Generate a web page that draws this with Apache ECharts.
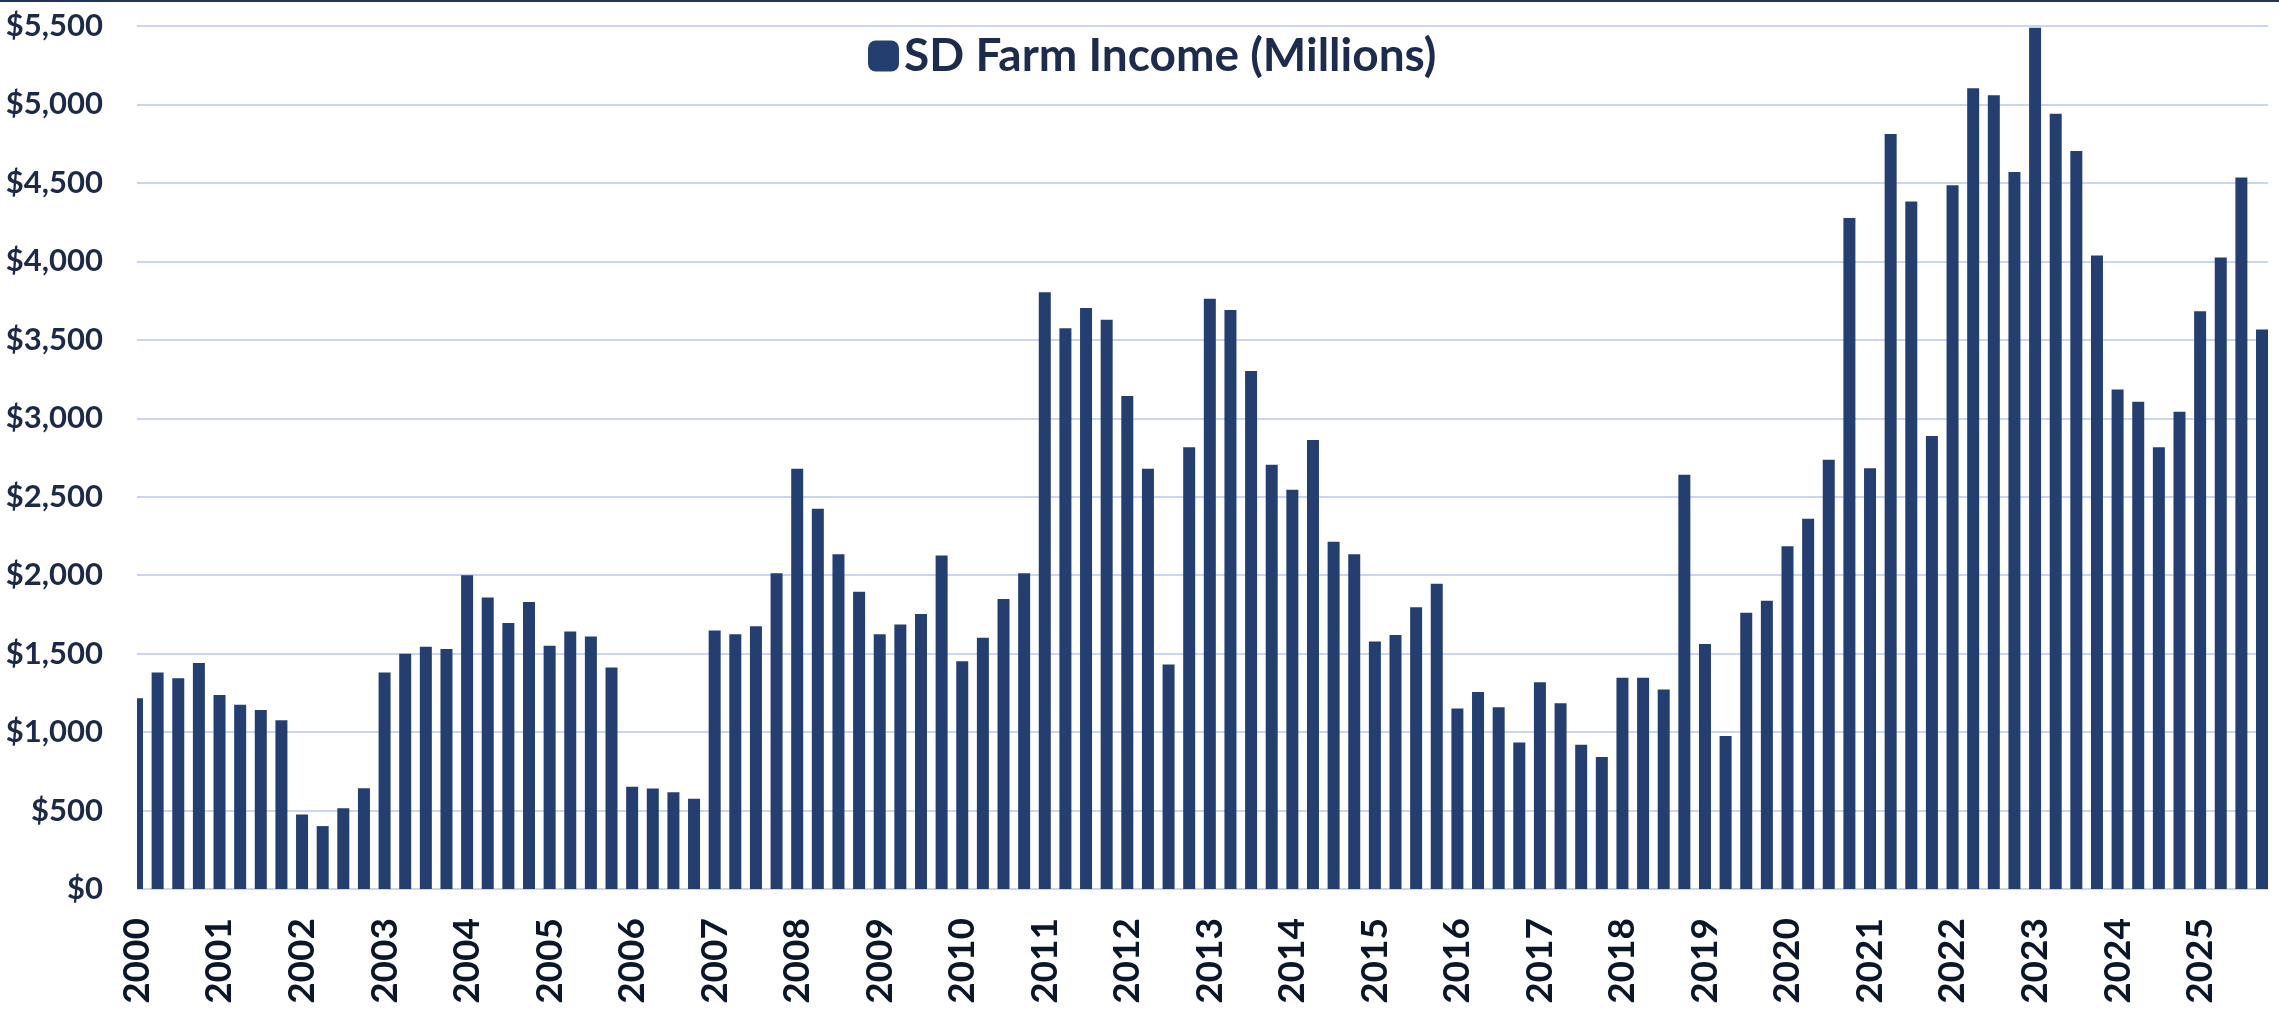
<!DOCTYPE html>
<html>
<head>
<meta charset="utf-8">
<title>SD Farm Income</title>
<script src="https://cdn.jsdelivr.net/npm/echarts@6/dist/echarts.min.js"></script>
<style>
  html, body { margin: 0; padding: 0; background: #fff; }
  #chart { width: 2279px; height: 1031px; }
</style>
</head>
<body>
<div id="chart"></div>
<script>
// year labels, one per Q1 bar
const years = [
  '2000', '2001', '2002', '2003', '2004', '2005', '2006', '2007', '2008',
  '2009', '2010', '2011', '2012', '2013', '2014', '2015', '2016', '2017',
  '2018', '2019', '2020', '2021', '2022', '2023', '2024', '2025',
]

// quarterly farm income, $ millions, 2000 Q1 .. 2025 Q4
const farmIncome = [
  1215, 1380, 1343, 1441,
  1236, 1175, 1141, 1075,
  475, 401, 515, 642,
  1380, 1500, 1544, 1529,
  2000, 1858, 1696, 1829,
  1550, 1641, 1610, 1411,
  651, 640, 617, 575,
  1648, 1623, 1674, 2013,
  2678, 2423, 2134, 1895,
  1623, 1686, 1753, 2125,
  1452, 1602, 1849, 2013,
  3803, 3573, 3703, 3628,
  3142, 2678, 1431, 2816,
  3761, 3690, 3301, 2703,
  2544, 2862, 2213, 2134,
  1577, 1619, 1795, 1946,
  1151, 1255, 1159, 933,
  1318, 1184, 920, 841,
  1347, 1347, 1272, 2640,
  1561, 975, 1761, 1837,
  2184, 2360, 2736, 4276,
  2682, 4812, 4381, 2887,
  4485, 5104, 5058, 4569,
  5489, 4941, 4703, 4038,
  3184, 3105, 2816, 3042,
  3682, 4025, 4535, 3565,
]

const yTicks = { min: 0, max: 5500, interval: 500 }
const seriesName = 'SD Farm Income (Millions)'

const navy = '#243f6f'
const gridBlue = '#cad6ee'
const barWidth = 12

const chart = echarts.init(document.getElementById('chart'))

chart.setOption({
  backgroundColor: '#fff',
  animation: false,
  textStyle: { fontFamily: 'Lato' },
  legend: {
    left: 863,
    top: 28,
    icon: 'roundRect',
    itemWidth: 31,
    itemHeight: 31,
    textStyle: { fontFamily: 'Lato', fontWeight: 'bold', fontSize: 46, color: '#1d2c4d' },
    data: [seriesName],
  },
  grid: { left: 137, right: 11, top: 26, bottom: 142, containLabel: false, outerBoundsMode: 'none' },
  xAxis: {
    type: 'value',
    min: 0,
    max: farmIncome.length - 1 + 0.29,
    interval: 4,
    axisLine: { show: false },
    axisTick: { show: false },
    splitLine: { show: false },
    axisLabel: {
      rotate: 90,
      margin: 29,
      fontFamily: 'Lato',
      fontWeight: 'bold',
      fontSize: 37,
      color: '#0b1628',
      formatter: (v) => years[v / 4] ?? '',
    },
  },
  yAxis: {
    type: 'value',
    min: yTicks.min,
    max: yTicks.max,
    interval: yTicks.interval,
    axisLine: { show: false },
    axisTick: { show: false },
    splitLine: { lineStyle: { color: gridBlue, width: 2 } },
    axisLabel: {
      margin: 34,
      fontFamily: 'Lato',
      fontWeight: 'bold',
      fontSize: 31,
      color: '#1c2a47',
      formatter: (v) => '$' + v.toLocaleString('en-US'),
    },
  },
  series: [
    {
      name: seriesName,
      type: 'bar',
      barWidth: barWidth,
      itemStyle: { color: navy },
      data: farmIncome.map((v, i) => [i, v]),
    },
  ],
})

// the first bar sits on the axis start and is cut in half there,
// bar clipping on a value axis leaves it whole, so mask its left half
const x0 = chart.convertToPixel({ xAxisIndex: 0 }, 0)
const yTop = chart.convertToPixel({ yAxisIndex: 0 }, yTicks.max)
const yBottom = chart.convertToPixel({ yAxisIndex: 0 }, yTicks.min)

chart.setOption({
  graphic: [
    {
      id: 'top-border',
      type: 'line',
      shape: { x1: 0, y1: 1, x2: chart.getWidth(), y2: 1 },
      style: { stroke: '#22355a', lineWidth: 2 },
    },
    {
      id: 'left-mask',
      type: 'rect',
      z: 100,
      shape: { x: x0 - barWidth, y: yTop - 2, width: barWidth, height: yBottom - yTop + 6 },
      style: { fill: '#fff' },
    },
  ],
})
</script>
</body>
</html>
